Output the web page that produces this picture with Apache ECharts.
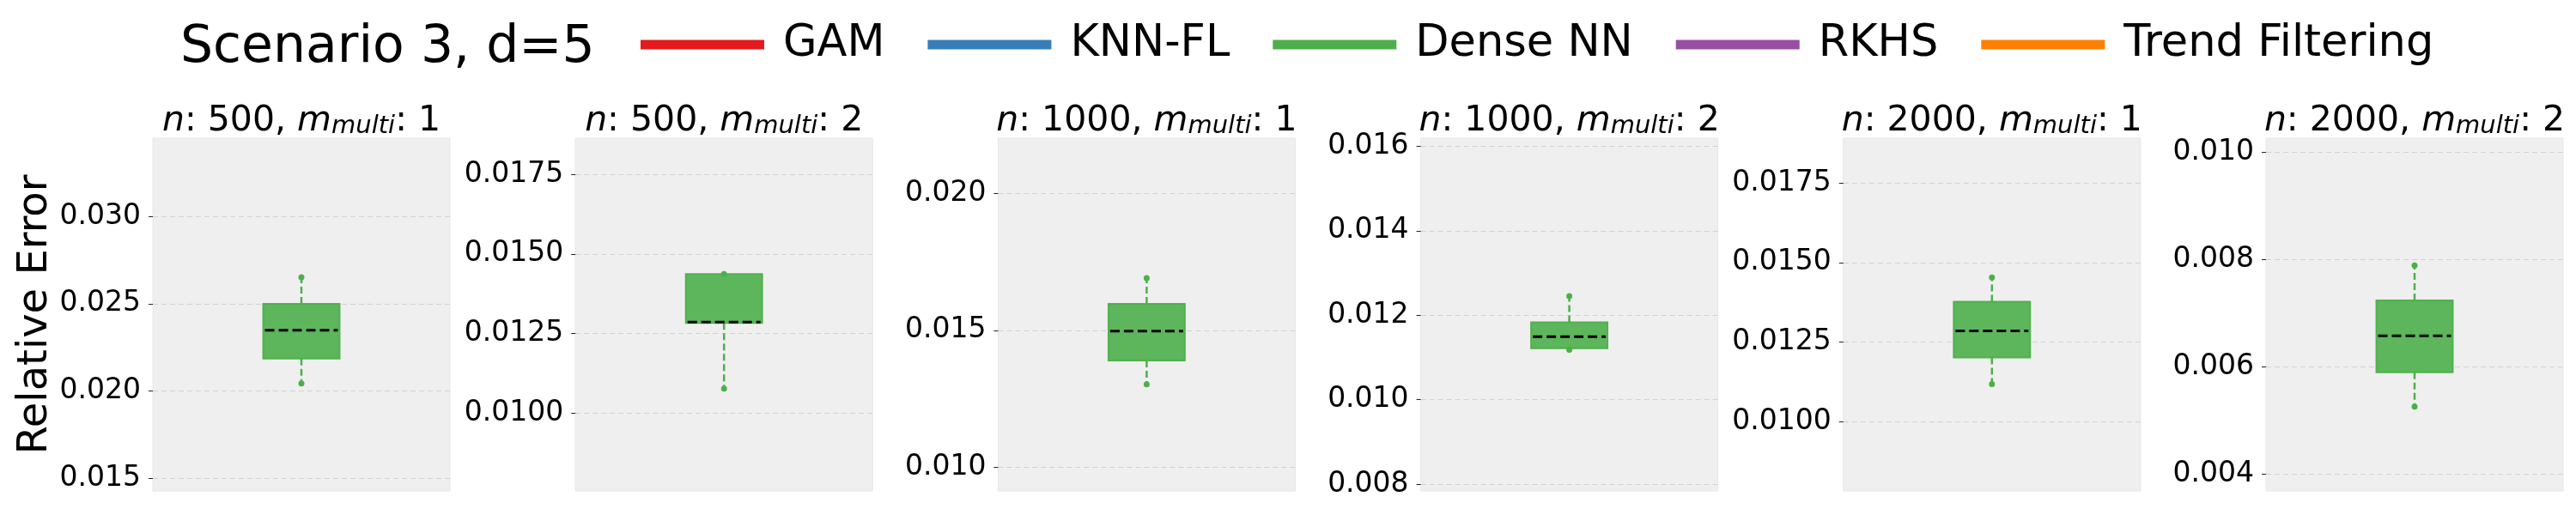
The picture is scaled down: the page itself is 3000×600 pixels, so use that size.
<!DOCTYPE html>
<html><head><meta charset="utf-8">
<script src="https://cdn.jsdelivr.net/npm/echarts@6/dist/echarts.min.js"></script>
<style>html,body{margin:0;padding:0;background:#fff}#c{width:3000px;height:600px}</style>
</head><body><div id="c"></div>
<script>
const chartTitle = 'Scenario 3, d=5';
const yAxisTitle = 'Relative Error';
const methods = ['GAM', 'KNN-FL', 'Dense NN', 'RKHS', 'Trend Filtering'];
const methodColors = ['#e41a1c', '#377eb8', '#4daf4a', '#984ea3', '#ff7f00'];
const panelN = [500, 500, 1000, 1000, 2000, 2000];
const panelM = [1, 2, 1, 2, 1, 2];
// Dense NN per panel: [whisker low, Q1, median, Q3, whisker high]
const denseNNBoxes = [
  [0.02044, 0.02186, 0.02348, 0.02500, 0.02652],
  [0.01077, 0.01283, 0.01286, 0.01437, 0.01437],
  [0.01303, 0.01390, 0.01497, 0.01597, 0.01691],
  [0.01118, 0.01122, 0.01149, 0.01183, 0.01245],
  [0.01118, 0.01202, 0.01285, 0.01377, 0.01453],
  [0.00526, 0.00590, 0.00658, 0.00724, 0.00789]
];
const yMin = [0.01428, 0.00756, 0.00913, 0.00784, 0.00783, 0.00369];
const yMax = [0.03448, 0.01863, 0.02202, 0.01619, 0.01890, 0.01026];
const yTicks = [
  [0.015, 0.020, 0.025, 0.030],
  [0.0100, 0.0125, 0.0150, 0.0175],
  [0.010, 0.015, 0.020],
  [0.008, 0.010, 0.012, 0.014, 0.016],
  [0.0100, 0.0125, 0.0150, 0.0175],
  [0.004, 0.006, 0.008, 0.010]
];
const tickDecimals = [3, 4, 3, 3, 4, 3];

const FONT = 'DejaVu Sans';
const gridLeft0 = 178, gridStep = 492.2, gridW = 346, gridTop = 161, gridH = 411;
const green = methodColors[2];

function renderBox(params, api) {
  const x = api.value(0);
  const lo = api.coord([x, api.value(1)]);
  const q1 = api.coord([x, api.value(2)]);
  const md = api.coord([x, api.value(3)]);
  const q3 = api.coord([x, api.value(4)]);
  const hi = api.coord([x, api.value(5)]);
  const bw = api.size([1, 0])[0] * 0.257;
  const cx = lo[0];
  const wStyle = {stroke: green, lineWidth: 2.5, lineDash: [8, 4]};
  return {type: 'group', children: [
    {type: 'line', shape: {x1: cx, y1: q1[1], x2: cx, y2: lo[1]}, style: wStyle},
    {type: 'line', shape: {x1: cx, y1: q3[1], x2: cx, y2: hi[1]}, style: wStyle},
    {type: 'rect', shape: {x: cx - bw / 2, y: q3[1], width: bw, height: q1[1] - q3[1]},
      style: {fill: 'rgba(77,175,74,0.9)', stroke: 'rgba(77,175,74,0.95)', lineWidth: 2}},
    {type: 'line', shape: {x1: cx - bw / 2 + 2, y1: md[1], x2: cx + bw / 2 - 2, y2: md[1]},
      style: {stroke: '#000', lineWidth: 3, lineDash: [11, 5]}},
    {type: 'circle', shape: {cx: cx, cy: lo[1], r: 3.5}, style: {fill: green}},
    {type: 'circle', shape: {cx: cx, cy: hi[1], r: 3.5}, style: {fill: green}}
  ]};
}

const grids = [], xAxes = [], yAxes = [], series = [], graphics = [];
for (let i = 0; i < 6; i++) {
  grids.push({left: gridLeft0 + gridStep * i, top: gridTop, width: gridW, height: gridH,
    show: true, backgroundColor: '#efefef', borderColor: '#e6e6e6', borderWidth: 1,
    containLabel: false, outerBoundsMode: 'none'});
  xAxes.push({type: 'category', gridIndex: i, data: [''], show: false});
  yAxes.push({type: 'value', gridIndex: i, min: yMin[i], max: yMax[i],
    axisLine: {show: false},
    axisTick: {show: true, length: 5, customValues: yTicks[i], lineStyle: {color: '#222', width: 1}},
    axisLabel: {customValues: yTicks[i], formatter: (v) => Number(v).toFixed(tickDecimals[i]),
      fontSize: 33, fontFamily: FONT, color: '#000', margin: 14},
    splitLine: {show: true, lineStyle: {color: '#d2d2d2', type: [6, 4], width: 1}},
    name: i === 0 ? yAxisTitle : '', nameLocation: 'middle', nameGap: 112,
    nameTextStyle: {fontSize: 48, fontFamily: FONT, color: '#000'}});
  series.push({type: 'custom', name: 'Dense NN', xAxisIndex: i, yAxisIndex: i, color: green,
    renderItem: renderBox, encode: {x: 0, y: [1, 2, 3, 4, 5]},
    data: [[0].concat(denseNNBoxes[i])]});
  graphics.push({type: 'text', x: gridLeft0 + gridStep * i + gridW / 2, y: 137,
    style: {text: '{i|n}{r|: ' + panelN[i] + ', }{i|m}{s|multi}{r|: ' + panelM[i] + '}',
      align: 'center', verticalAlign: 'middle', fill: '#000', fontSize: 41, fontFamily: FONT,
      rich: {
        i: {fontStyle: 'italic', fontSize: 41, fontFamily: FONT, lineHeight: 50, verticalAlign: 'bottom', fill: '#000'},
        r: {fontSize: 41, fontFamily: FONT, lineHeight: 50, verticalAlign: 'bottom', fill: '#000'},
        s: {fontStyle: 'italic', fontSize: 29, fontFamily: FONT, lineHeight: 29, verticalAlign: 'bottom', fill: '#000'}
      }}});
}
methods.forEach((m, k) => {
  if (k !== 2) series.push({type: 'line', name: m, xAxisIndex: 0, yAxisIndex: 0, data: [], color: methodColors[k]});
});

const chart = echarts.init(document.getElementById('c'), null, {renderer: 'canvas'});
chart.setOption({
  backgroundColor: '#fff',
  animation: false,
  title: {text: chartTitle, left: 210, top: 21, padding: 0,
    textStyle: {fontSize: 60, fontWeight: 'normal', fontFamily: FONT, color: '#000', lineHeight: 70}},
  legend: {left: 746, top: 22, padding: 0, itemWidth: 144, itemHeight: 11, itemGap: 50, selectedMode: false,
    textStyle: {fontSize: 51, fontFamily: FONT, color: '#000', padding: [0, 0, 0, 17], lineHeight: 60},
    data: methods.map((m, k) => ({name: m, icon: 'rect', itemStyle: {color: methodColors[k]}}))},
  grid: grids, xAxis: xAxes, yAxis: yAxes, series: series, graphic: graphics
});
</script></body></html>
